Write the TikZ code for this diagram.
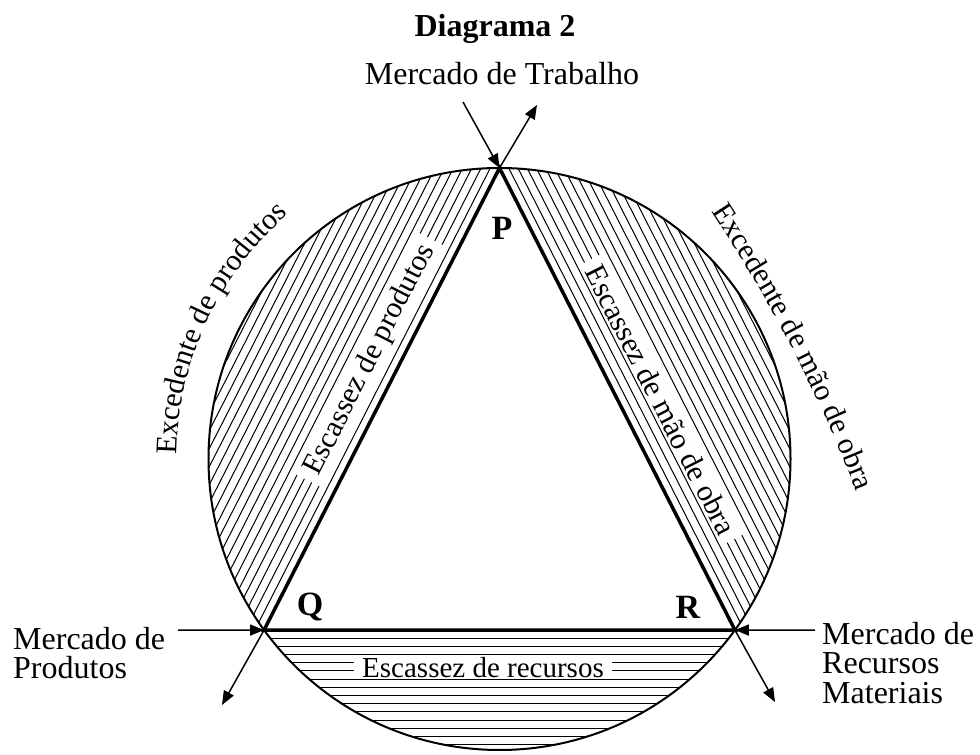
\documentclass[tikz,border=0pt]{standalone}
\usepackage{fontspec}
\setmainfont{Liberation Serif}
\usetikzlibrary{arrows.meta,decorations.text}
\newcommand\lbl{\fontsize{32}{29.5}\selectfont}
\newcommand\seg{\fontsize{30}{30}\selectfont}
\newcommand\rim{\fontsize{30}{30}\selectfont}

\begin{document}
\begin{tikzpicture}[x=1pt,y=1pt,
 a/.style={-{Triangle[length=14pt,width=11pt]},line width=1.5pt},
 h/.style={line width=1pt},
 s/.style={fill=white,inner xsep=8pt,inner ysep=1pt,font=\seg},
 v/.style={inner sep=0pt,font=\bfseries\fontsize{34}{34}\selectfont},
 m/.style={inner sep=0pt,font=\lbl,align=left,anchor=north west}
]
\useasboundingbox (0,0) rectangle (980,755);
\coordinate (O) at (499.5,296);
\coordinate (P) at ([shift={(O)}]90:291);
\coordinate (Q) at ([shift={(O)}]216:291);
\coordinate (R) at ([shift={(O)}]324:291);

\foreach \t/\d/\n in {153/132.1/19,27/132.1/19,270/171/14}{
 \begin{scope}[shift={(O)},rotate=\t]
  \foreach \k in {1,...,\n}{
   \pgfmathsetmacro\xx{\d+8.2*\k}
   \pgfmathsetmacro\yy{100*sqrt(8.4681-(\xx/100)^2)}
   \draw[h] (\xx,-\yy) -- (\xx,\yy);
  }
 \end{scope}
}

\node[s,rotate=63] (sp) at (370,395) {Escassez de produtos};
\node[s,rotate=-63] (sm) at (661,355) {Escassez de mão de obra};
\node[s,font=\fontsize{29}{29}\selectfont] (sr) at (483,87) {Escassez de recursos};

\draw[line width=2pt] (O) circle[radius=291pt];
\draw[line width=3.5pt] (P) -- (Q) -- (R) -- cycle;

\node[v] (p) at (502,527) {P};
\node[v] (q) at (310,148) {Q};
\node[v] (r) at (688,148) {R};

\coordinate (pin) at (463,653);
\coordinate (pout) at (537,650);
\coordinate (qin) at (178,124.95);
\coordinate (qout) at (222,50);
\coordinate (rin) at (815,124.95);
\coordinate (rout) at (775,53);
\draw[a] (pin) -- (P);
\draw[a] (P) -- (pout);
\draw[a] (qin) -- (Q);
\draw[a] (Q) -- (qout);
\draw[a] (rin) -- (R);
\draw[a] (R) -- (rout);

\node[anchor=base,font=\bfseries\fontsize{32}{32}\selectfont] (title) at (495,718) {Diagrama 2};
\node[anchor=base,font=\lbl] (trab) at (502,670) {Mercado de Trabalho};
\node[m] (prod) at (13,128) {Mercado de\\Produtos};
\node[m] (rec) at (822,133) {Mercado de\\Recursos\\Materiais};

\path[decorate,decoration={text along path,text align=center,text={|\rim|Excedente de produtos}}]
 ([shift={(O)}]200:323) arc[start angle=200,end angle=110,radius=323pt];
\coordinate (e1) at (702,558);
\coordinate (e2) at (863,247);
\path[decorate,decoration={text along path,text align=center,text={|\rim|Excedente de mão de obra}}]
 (e1) to[bend left=6] (e2);
\end{tikzpicture}
\end{document}
